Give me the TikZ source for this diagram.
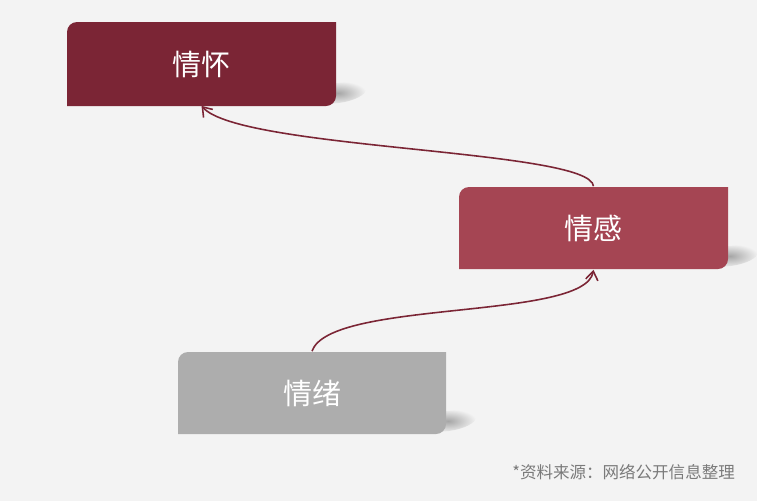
\documentclass[tikz,border=0pt]{standalone}
\usepackage{fontspec}
\newfontfamily\cjk{Noto Sans CJK SC}
\usetikzlibrary{arrows.meta}

\definecolor{huaired}{HTML}{7B2535}
\definecolor{ganred}{HTML}{A54553}
\definecolor{xugray}{HTML}{ADADAD}
\definecolor{bggray}{HTML}{F3F3F3}
\definecolor{notegray}{HTML}{7A7A7A}

\begin{document}
\begin{tikzpicture}[x=0.02cm, y=0.02cm,
    boxtext/.style={minimum width=5.38cm, minimum height=1.66cm, inner sep=0pt,
      text=white, font=\cjk\fontsize{16.5}{20}\selectfont},
    boxshadow/.style={inner color=black!35, outer color=bggray},
    link/.style={draw=huaired, line width=0.9pt,
      -{Straight Barb[length=5pt,width=7pt]}}]
    \useasboundingbox (0,0) rectangle (757,-501);
    \fill [bggray] (0,0) rectangle (757,-501);
    % shadows
    \shade [boxshadow, shift={(338,-93)}, rotate=8] (0,0) ellipse (28 and 10);
    \shade [boxshadow, shift={(730,-256)}, rotate=8] (0,0) ellipse (28 and 10);
    \shade [boxshadow, shift={(448,-421)}, rotate=8] (0,0) ellipse (28 and 10);
    % boxes
    \fill [huaired] (67,-106) -- (67,-32) arc (180:90:10) -- (336,-22)
      -- (336,-96) arc (0:-90:10) -- cycle;
    \fill [ganred] (459,-269) -- (459,-197) arc (180:90:10) -- (728,-187)
      -- (728,-259) arc (0:-90:10) -- cycle;
    \fill [xugray] (178,-434) -- (178,-362) arc (180:90:10) -- (446,-352)
      -- (446,-424) arc (0:-90:10) -- cycle;
    \node [boxtext] (huai) at (201.5,-64) {情怀};
    \node [boxtext] (gan) at (593.5,-228) {情感};
    \node [boxtext] (xu) at (312,-393) {情绪};
    % links
    \draw [link] (gan.north) .. controls +(-3.5,37) and +(38.5,-44) .. (huai.south);
    \draw [link] (xu.north) .. controls +(18,52) and +(-8.5,-51) .. (gan.south);
    \node [anchor=east, text=notegray, font=\cjk\fontsize{9.4}{11}\selectfont]
      (note) at (741,-472) {*资料来源：网络公开信息整理};
\end{tikzpicture}
\end{document}
